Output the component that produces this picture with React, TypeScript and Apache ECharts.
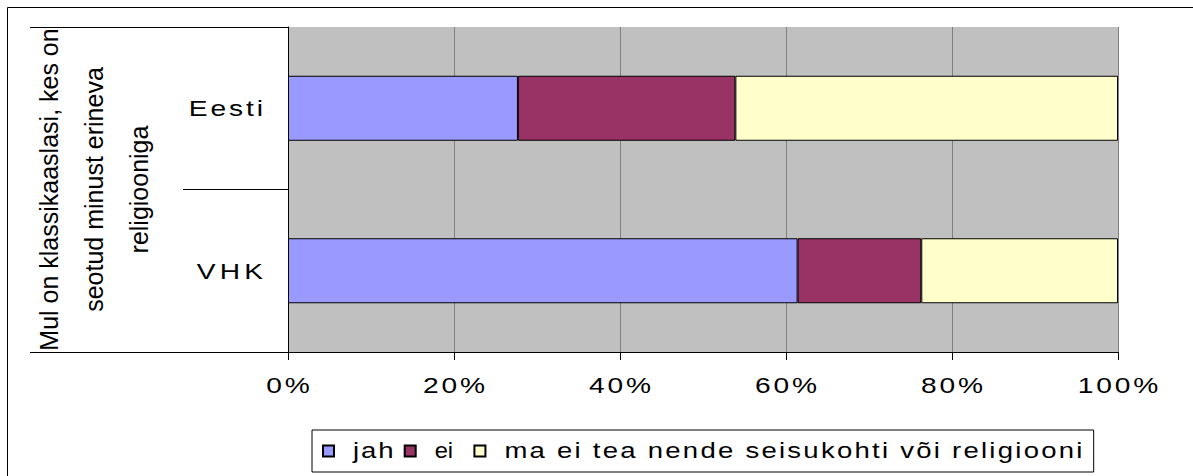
import React, { useEffect, useRef } from 'react';
import * as echarts from 'echarts';

// ---- data ----
const categories = ['Eesti', 'VHK'];
const seriesNames = ['jah', 'ei', 'ma ei tea nende seisukohti või religiooni'];
const jahValues = [27.7, 61.4];
const eiValues = [26.2, 14.9];
const unknownValues = [46.1, 23.7];
const xTickStep = 20;
const axisTitleLines = ['Mul on klassikaaslasi, kes on', 'seotud minust erineva', 'religiooniga'];

// ---- styles ----
const colors = ['#9999FF', '#993366', '#FFFFCC'];
const FONT = '"Liberation Sans", Arial, Helvetica, sans-serif';
// horizontal glyph stretch and letter spacing of the original rendering
const textLook: Record<string, { sx: number; ls: number }> = {
  Eesti: { sx: 1.28, ls: 2.3 },
  VHK: { sx: 1.28, ls: 3.3 },
  '0%': { sx: 1.28, ls: 2.2 },
  '20%': { sx: 1.28, ls: 2.2 },
  '40%': { sx: 1.28, ls: 2.2 },
  '60%': { sx: 1.28, ls: 2.2 },
  '80%': { sx: 1.28, ls: 2.2 },
  '100%': { sx: 1.28, ls: 2.2 },
  jah: { sx: 1.28, ls: 1.5 },
  ei: { sx: 1.1, ls: 0 },
  'ma ei tea nende seisukohti või religiooni': { sx: 1.28, ls: 1.76 },
};

export default function App() {
  const ref = useRef<HTMLDivElement>(null);

  useEffect(() => {
    const el = ref.current;
    if (!el) return;
    const chart = echarts.init(el, undefined, { renderer: 'svg' });

    const seriesData = [jahValues, eiValues, unknownValues];

    chart.setOption({
      animation: false,
      backgroundColor: '#FFFFFF',
      textStyle: { fontFamily: FONT },
      grid: {
        left: 288,
        right: 75,
        top: 27,
        bottom: 124,
        containLabel: false,
        show: true,
        backgroundColor: '#C0C0C0',
        borderWidth: 0,
      },
      xAxis: {
        type: 'value',
        min: 0,
        max: 100,
        interval: xTickStep,
        axisLine: { show: true, lineStyle: { color: '#000', width: 1 } },
        axisTick: { show: true, length: 8, lineStyle: { color: '#000', width: 1 } },
        axisLabel: {
          formatter: (v: number) => `${v}%`,
          fontSize: 22,
          color: '#000',
          fontFamily: FONT,
          margin: 22,
        },
        splitLine: { show: true, lineStyle: { color: '#808080', width: 1 } },
      },
      yAxis: {
        type: 'category',
        data: categories,
        inverse: true,
        axisLine: { show: true, lineStyle: { color: '#000', width: 1 } },
        axisTick: { show: true, length: 105, interval: 0, lineStyle: { color: '#000', width: 1 } },
        axisLabel: { fontSize: 22, color: '#000', fontFamily: FONT, margin: 25 },
        splitLine: { show: false },
        name: axisTitleLines.join('\n'),
        nameLocation: 'middle',
        nameRotate: 90,
        nameGap: 127,
        nameTextStyle: {
          fontSize: 25,
          lineHeight: 45,
          color: '#000',
          fontFamily: FONT,
          align: 'center',
        },
      },
      legend: {
        show: true,
        orient: 'horizontal',
        left: 312,
        top: 430,
        padding: [10, 208, 10, 10],
        borderColor: '#000',
        borderWidth: 1,
        itemWidth: 11,
        itemHeight: 11,
        itemGap: 22,
        icon: 'rect',
        selectedMode: false,
        data: seriesNames,
        formatter: (name: string) => `{a|${name}}`,
        textStyle: {
          fontSize: 21.5,
          color: '#000',
          fontFamily: FONT,
          rich: {
            a: { fontSize: 21.5, color: '#000', fontFamily: FONT, padding: [0, 0, 0, 14] },
          },
        },
      },
      graphic: [
        {
          type: 'rect',
          shape: { x: 7.5, y: 7.5, width: 1200, height: 480 },
          style: { fill: 'none', stroke: '#000', lineWidth: 1 },
          silent: true,
          z: 100,
        },
        {
          type: 'line',
          shape: { x1: 30, y1: 27.5, x2: 184, y2: 27.5 },
          style: { stroke: '#000', lineWidth: 1 },
          silent: true,
        },
        {
          type: 'line',
          shape: { x1: 30, y1: 352.5, x2: 184, y2: 352.5 },
          style: { stroke: '#000', lineWidth: 1 },
          silent: true,
        },
      ],
      series: seriesNames.map((name, i) => ({
        name,
        type: 'bar',
        stack: 'total',
        barWidth: 65,
        data: seriesData[i],
        itemStyle: { color: colors[i], borderColor: '#000', borderWidth: 1 },
        emphasis: { disabled: true },
        label: { show: false },
      })),
    });

    const applyTextLook = () => {
      el.querySelectorAll('text').forEach((t) => {
        const look = textLook[(t.textContent || '').trim()];
        if (!look) return;
        const { sx, ls } = look;
        if (ls) t.setAttribute('letter-spacing', String(ls));
        const anchor = t.getAttribute('text-anchor');
        const dx = anchor === 'middle' ? ls / 2 : anchor === 'end' ? ls : 0;
        if (dx) t.setAttribute('dx', String(dx));
        const x = parseFloat(t.getAttribute('x') || '0') || 0;
        const y = parseFloat(t.getAttribute('y') || '0') || 0;
        let orig = t.getAttribute('data-orig-transform');
        if (orig === null) {
          orig = t.getAttribute('transform') || '';
          t.setAttribute('data-orig-transform', orig);
        }
        t.setAttribute(
          'transform',
          `${orig} translate(${x} ${y}) scale(${sx} 1) translate(${-x} ${-y})`.trim()
        );
      });
    };
    applyTextLook();
    chart.on('finished', applyTextLook);
    const timer = window.setTimeout(applyTextLook, 50);

    return () => {
      window.clearTimeout(timer);
      chart.dispose();
    };
  }, []);

  return (
    <div
      ref={ref}
      style={{ position: 'fixed', left: 0, top: 0, width: 1193, height: 476, background: '#fff' }}
    />
  );
}
